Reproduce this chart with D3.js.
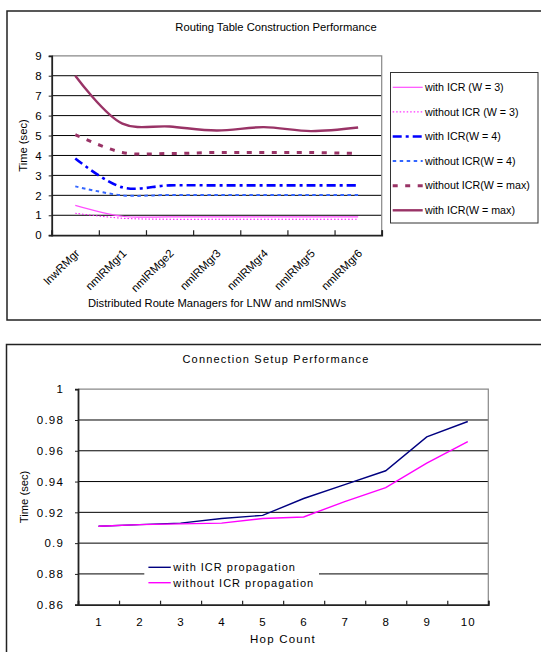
<!DOCTYPE html>
<html>
<head>
<meta charset="utf-8">
<script src="https://cdn.jsdelivr.net/npm/d3@7"></script>
<style>
  body { margin: 0; background: #fff; }
  svg { display: block; font-family: "Liberation Sans", Arial, sans-serif; }
</style>
</head>
<body>
<script>
const width = 541;
const height = 652;

// --- top chart data ---
const routeCats = ["lnwRMgr", "nmlRMgr1", "nmlRMge2", "nmlRMgr3", "nmlRMgr4", "nmlRMgr5", "nmlRMgr6"];
const routeTicks = [0, 1, 2, 3, 4, 5, 6, 7, 8, 9];
const withW3 = [1.5, 0.95, 0.92, 0.92, 0.92, 0.92, 0.92];
const withoutW3 = [1.1, 0.85, 0.8, 0.8, 0.8, 0.8, 0.8];
const withW4 = [3.85, 2.4, 2.5, 2.5, 2.5, 2.5, 2.5];
const withoutW4 = [2.45, 2.0, 2.02, 2.02, 2.02, 2.02, 2.02];
const withoutWmax = [5.05, 4.15, 4.1, 4.15, 4.15, 4.15, 4.1];
const withWmax = [8.0, 5.6, 5.45, 5.25, 5.42, 5.22, 5.4];

// --- bottom chart data ---
const hops = [1, 2, 3, 4, 5, 6, 7, 8, 9, 10];
const setupTicks = [0.86, 0.88, 0.9, 0.92, 0.94, 0.96, 0.98, 1];
const withProp = [0.911, 0.912, 0.913, 0.916, 0.918, 0.929, 0.938, 0.947, 0.969, 0.979];
const withoutProp = [0.911, 0.912, 0.9125, 0.913, 0.916, 0.917, 0.927, 0.936, 0.952, 0.966];

const svg = d3.select("body")
  .append("svg")
    .attr("width", width)
    .attr("height", height);

// outer frames
svg.append("rect")
  .attr("x", 7).attr("y", 11).attr("width", 560).attr("height", 309)
  .attr("fill", "none").attr("stroke", "#222").attr("stroke-width", 1.5);
svg.append("rect")
  .attr("x", 6.5).attr("y", 344.5).attr("width", 560).attr("height", 330)
  .attr("fill", "none").attr("stroke", "#222").attr("stroke-width", 1.5);

// ================= top chart =================
const t = { left: 51.7, right: 381.7, top: 55.8, bottom: 235.2 };

const xTop = d3.scalePoint()
  .domain(routeCats)
  .range([t.left, t.right])
  .padding(0.5);
const xTopEdge = d3.scaleLinear()
  .domain([0, routeCats.length])
  .range([t.left, t.right]);
const yTop = d3.scaleLinear()
  .domain([0, 9])
  .range([t.bottom, t.top]);

const gTop = svg.append("g");

gTop.append("g")
  .selectAll("line")
  .data(routeTicks.filter(d => d > 0 && d < 9))
  .enter()
  .append("line")
    .attr("x1", t.left).attr("x2", t.right)
    .attr("y1", d => yTop(d)).attr("y2", d => yTop(d))
    .attr("stroke", "#000").attr("stroke-width", 1);

// plot border (top and right, grey)
gTop.append("path")
  .attr("d", `M${t.left},${t.top}H${t.right}V${t.bottom}`)
  .attr("fill", "none").attr("stroke", "#888").attr("stroke-width", 1.2);

const yAxisTop = gTop.append("g")
  .attr("transform", `translate(${t.left},0)`)
  .call(d3.axisLeft(yTop).tickValues(routeTicks).tickSize(3).tickPadding(7));
yAxisTop.select(".domain").attr("stroke", "#222").attr("stroke-width", 1.8);
yAxisTop.selectAll(".tick line").attr("stroke", "#222");
yAxisTop.selectAll("text").attr("font-size", 11.5).attr("fill", "#000")
  .attr("font-family", "Liberation Sans, Arial, sans-serif");

const xAxisTop = gTop.append("g")
  .attr("transform", `translate(0,${t.bottom})`)
  .call(d3.axisBottom(xTopEdge).ticks(routeCats.length).tickSize(-5).tickFormat(""));
xAxisTop.select(".domain").attr("stroke", "#222").attr("stroke-width", 1.8);
xAxisTop.selectAll(".tick line").attr("stroke", "#222").attr("stroke-width", 1.2);

gTop.append("g")
  .selectAll("text")
  .data(routeCats)
  .enter()
  .append("text")
    .attr("transform", d => `translate(${xTop(d) + 2},${t.bottom + 16}) rotate(-45)`)
    .attr("text-anchor", "end")
    .attr("dy", "0.35em")
    .attr("font-size", 11.3)
    .text(d => d);

gTop.append("text")
  .attr("x", 276).attr("y", 31)
  .attr("text-anchor", "middle")
  .attr("font-size", 11.2)
  .text("Routing Table Construction Performance");

gTop.append("text")
  .attr("x", 217).attr("y", 307)
  .attr("text-anchor", "middle")
  .attr("font-size", 11.2)
  .text("Distributed Route Managers for LNW and nmlSNWs");

gTop.append("text")
  .attr("transform", `translate(27,${(t.top + t.bottom) / 2}) rotate(-90)`)
  .attr("text-anchor", "middle")
  .attr("font-size", 11.2)
  .text("Time (sec)");

const routeSeries = [
  { name: "with ICR (W = 3)", values: withW3, color: "#ff4dff", w: 1.2, dash: null },
  { name: "without ICR (W = 3)", values: withoutW3, color: "#ff00ff", w: 1, dash: "1.5,2" },
  { name: "with ICR(W = 4)", values: withW4, color: "#0000ff", w: 2.6, dash: "9,4,3,4" },
  { name: "without ICR(W = 4)", values: withoutW4, color: "#3366ff", w: 2, dash: "3.5,3.5" },
  { name: "without ICR(W = max)", values: withoutWmax, color: "#993366", w: 3, dash: "5,7.5" },
  { name: "with ICR(W = max)", values: withWmax, color: "#993366", w: 2.4, dash: null }
];

const lineTop = d3.line()
  .x((d, i) => xTop(routeCats[i]))
  .y(d => yTop(d))
  .curve(d3.curveCatmullRom.alpha(0.5));

gTop.append("g")
  .selectAll("path")
  .data(routeSeries)
  .enter()
  .append("path")
    .attr("d", d => lineTop(d.values))
    .attr("fill", "none")
    .attr("stroke", d => d.color)
    .attr("stroke-width", d => d.w)
    .attr("stroke-dasharray", d => d.dash);

// legend
const legTop = gTop.append("g");
legTop.append("rect")
  .attr("x", 390.5).attr("y", 72.5).attr("width", 147.5).attr("height", 150.5)
  .attr("fill", "#fff").attr("stroke", "#333").attr("stroke-width", 1);
const legRows = legTop.selectAll("g.row")
  .data(routeSeries)
  .enter()
  .append("g")
    .attr("class", "row")
    .attr("transform", (d, i) => `translate(0,${87.3 + i * 24.6})`);
legRows.append("line")
  .attr("x1", 392.7).attr("x2", 422.7)
  .attr("stroke", d => d.color)
  .attr("stroke-width", d => d.w)
  .attr("stroke-dasharray", d => d.dash);
legRows.append("text")
  .attr("x", 425).attr("dy", "0.35em")
  .attr("font-size", 10.7)
  .text(d => d.name);

// ================= bottom chart =================
const b = { left: 78, right: 488.3, top: 389.2, bottom: 604.7 };

const xBot = d3.scalePoint()
  .domain(hops)
  .range([b.left, b.right])
  .padding(0.5);
const xBotEdge = d3.scaleLinear()
  .domain([0, hops.length])
  .range([b.left, b.right]);
const yBot = d3.scaleLinear()
  .domain([0.86, 1])
  .range([b.bottom, b.top]);

const gBot = svg.append("g").attr("letter-spacing", 1.2);

gBot.append("g")
  .selectAll("line")
  .data(setupTicks.filter(d => d > 0.86 && d < 1))
  .enter()
  .append("line")
    .attr("x1", b.left).attr("x2", b.right)
    .attr("y1", d => yBot(d)).attr("y2", d => yBot(d))
    .attr("stroke", "#000").attr("stroke-width", 1);

gBot.append("path")
  .attr("d", `M${b.left},${b.top}H${b.right}V${b.bottom}`)
  .attr("fill", "none").attr("stroke", "#888").attr("stroke-width", 1.2);

const yAxisBot = gBot.append("g")
  .attr("transform", `translate(${b.left},0)`)
  .call(d3.axisLeft(yBot).tickValues(setupTicks).tickSize(3).tickPadding(11)
    .tickFormat(d => String(+d.toFixed(2))));
yAxisBot.select(".domain").attr("stroke", "#222").attr("stroke-width", 1.8);
yAxisBot.selectAll(".tick line").attr("stroke", "#222");
yAxisBot.selectAll("text").attr("font-size", 11.5).attr("fill", "#000")
  .attr("font-family", "Liberation Sans, Arial, sans-serif");

const xAxisBot = gBot.append("g")
  .attr("transform", `translate(0,${b.bottom})`)
  .call(d3.axisBottom(xBotEdge).ticks(hops.length).tickSize(-4).tickFormat(""));
xAxisBot.select(".domain").attr("stroke", "#222").attr("stroke-width", 1.8);
xAxisBot.selectAll(".tick line").attr("stroke", "#222").attr("stroke-width", 1.2);

gBot.append("g")
  .selectAll("text")
  .data(hops)
  .enter()
  .append("text")
    .attr("x", d => xBot(d) + 0.5)
    .attr("y", 626)
    .attr("text-anchor", "middle")
    .attr("font-size", 11.5)
    .text(d => d);

gBot.append("text")
  .attr("x", 276).attr("y", 363)
  .attr("text-anchor", "middle")
  .attr("font-size", 11)
  .text("Connection Setup Performance");

gBot.append("text")
  .attr("x", 283).attr("y", 643)
  .attr("text-anchor", "middle")
  .attr("font-size", 11.5)
  .text("Hop Count");

gBot.append("text")
  .attr("transform", `translate(28,${(b.top + b.bottom) / 2}) rotate(-90)`)
  .attr("text-anchor", "middle")
  .attr("font-size", 11.2)
  .attr("letter-spacing", 0)
  .text("Time (sec)");

const setupSeries = [
  { name: "with ICR propagation", values: withProp, color: "#000080" },
  { name: "without ICR propagation", values: withoutProp, color: "#ff00ff" }
];

const lineBot = d3.line()
  .x((d, i) => xBot(hops[i]))
  .y(d => yBot(d));

gBot.append("g")
  .selectAll("path")
  .data(setupSeries)
  .enter()
  .append("path")
    .attr("d", d => lineBot(d.values))
    .attr("fill", "none")
    .attr("stroke", d => d.color)
    .attr("stroke-width", 1.4);

const legBot = gBot.append("g");
legBot.append("rect")
  .attr("x", 144.3).attr("y", 560).attr("width", 174.7).attr("height", 30)
  .attr("fill", "#fff");
const legBotRows = legBot.selectAll("g.row")
  .data(setupSeries)
  .enter()
  .append("g")
    .attr("class", "row")
    .attr("transform", (d, i) => `translate(0,${567.3 + i * 15.4})`);
legBotRows.append("line")
  .attr("x1", 148.4).attr("x2", 170.8)
  .attr("stroke", d => d.color)
  .attr("stroke-width", 1.4);
legBotRows.append("text")
  .attr("x", 173.2).attr("dy", "0.35em")
  .attr("font-size", 11)
  .attr("letter-spacing", 1)
  .text(d => d.name);
</script>
</body>
</html>
